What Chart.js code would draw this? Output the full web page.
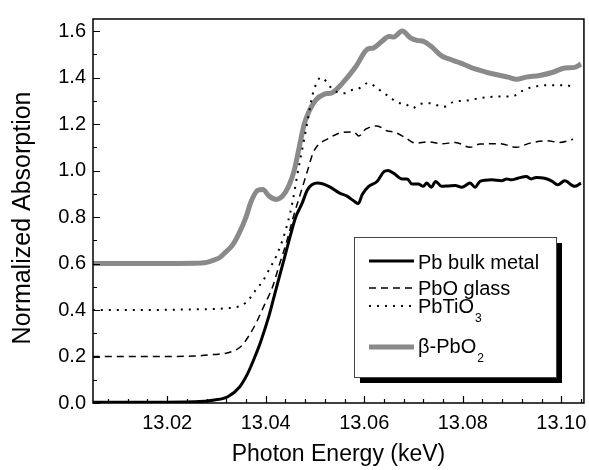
<!DOCTYPE html>
<html>
<head>
<meta charset="utf-8">
<script src="https://cdn.jsdelivr.net/npm/chart.js@4"></script>
<style>
  html, body { margin: 0; padding: 0; background: #fff; }
  canvas { display: block; }
</style>
</head>
<body>
<canvas id="grafico" width="589" height="470"></canvas>
<script>
const FONT = "'Liberation Sans', Arial, Helvetica, sans-serif";

// values
const pbMetalE = [13.0049, 13.0150, 13.0256, 13.0296, 13.0323, 13.0347, 13.0363, 13.0380, 13.0390, 13.0407, 13.0421, 13.0437, 13.0451, 13.0461, 13.0474, 13.0485, 13.0505, 13.0528, 13.0549, 13.0565, 13.0579, 13.0588, 13.0596, 13.0609, 13.0626, 13.0640, 13.0648, 13.0660, 13.0677, 13.0687, 13.0697, 13.0710, 13.0720, 13.0727, 13.0736, 13.0745, 13.0757, 13.0771, 13.0785, 13.0798, 13.0815, 13.0825, 13.0835, 13.0859, 13.0879, 13.0889, 13.0899, 13.0912, 13.0929, 13.0939, 13.0949, 13.0966, 13.0980, 13.0993, 13.1007, 13.1027, 13.1040];
const pbMetalY = [0.003, 0.003, 0.005, 0.013, 0.027, 0.069, 0.125, 0.209, 0.265, 0.378, 0.49, 0.616, 0.728, 0.80, 0.86, 0.918, 0.946, 0.932, 0.904, 0.89, 0.869, 0.858, 0.897, 0.932, 0.953, 0.995, 1.0, 0.988, 0.964, 0.964, 0.942, 0.942, 0.932, 0.946, 0.928, 0.953, 0.932, 0.934, 0.936, 0.928, 0.946, 0.928, 0.953, 0.96, 0.956, 0.964, 0.96, 0.967, 0.974, 0.964, 0.97, 0.967, 0.956, 0.939, 0.956, 0.932, 0.946];

const pboGlassE = [13.0049, 13.0150, 13.0256, 13.0296, 13.0323, 13.0350, 13.0367, 13.0380, 13.0397, 13.0414, 13.0427, 13.0442, 13.0456, 13.0471, 13.0485, 13.0495, 13.0505, 13.0525, 13.0555, 13.0579, 13.0589, 13.0603, 13.0626, 13.0646, 13.0663, 13.0683, 13.0704, 13.0730, 13.0757, 13.0785, 13.0815, 13.0835, 13.0876, 13.0909, 13.0936, 13.0970, 13.0997, 13.1024];
const pboGlassY = [0.20, 0.20, 0.202, 0.209, 0.216, 0.244, 0.293, 0.342, 0.42, 0.50, 0.59, 0.69, 0.80, 0.904, 1.0, 1.07, 1.107, 1.135, 1.164, 1.166, 1.149, 1.178, 1.192, 1.171, 1.164, 1.142, 1.118, 1.124, 1.115, 1.121, 1.10, 1.114, 1.115, 1.10, 1.118, 1.128, 1.121, 1.135];

const pbTiO3E = [13.0049, 13.0150, 13.0256, 13.0323, 13.0353, 13.0367, 13.0380, 13.0393, 13.0407, 13.0421, 13.0434, 13.0444, 13.0454, 13.0464, 13.0474, 13.0485, 13.0495, 13.0506, 13.0512, 13.0518, 13.0528, 13.0543, 13.0559, 13.0573, 13.0591, 13.0608, 13.0623, 13.0636, 13.0652, 13.0668, 13.0683, 13.0698, 13.0714, 13.0731, 13.0745, 13.0761, 13.0781, 13.0807, 13.0840, 13.0868, 13.0902, 13.0917, 13.0943, 13.0975, 13.1009, 13.1027];
const pbTiO3Y = [0.40, 0.40, 0.403, 0.408, 0.422, 0.448, 0.487, 0.521, 0.574, 0.63, 0.70, 0.77, 0.86, 0.98, 1.09, 1.213, 1.325, 1.388, 1.40, 1.395, 1.367, 1.34, 1.333, 1.345, 1.355, 1.377, 1.36, 1.339, 1.316, 1.292, 1.287, 1.269, 1.287, 1.29, 1.283, 1.274, 1.295, 1.301, 1.313, 1.318, 1.32, 1.339, 1.36, 1.367, 1.367, 1.357];

const betaPbO2E = [13.0049, 13.0165, 13.0256, 13.0280, 13.0296, 13.0306, 13.0316, 13.0333, 13.0347, 13.0360, 13.0370, 13.0384, 13.0394, 13.0407, 13.0421, 13.0434, 13.0448, 13.0458, 13.0468, 13.0478, 13.0488, 13.0502, 13.0518, 13.0535, 13.0555, 13.0582, 13.0606, 13.0619, 13.0636, 13.0650, 13.0660, 13.0677, 13.0694, 13.0707, 13.0720, 13.0737, 13.0757, 13.0774, 13.0788, 13.0801, 13.0825, 13.0848, 13.0876, 13.0892, 13.0909, 13.0929, 13.0956, 13.0983, 13.1007, 13.1027, 13.1040];
const betaPbO2Y = [0.600, 0.600, 0.601, 0.605, 0.616, 0.625, 0.644, 0.68, 0.735, 0.80, 0.865, 0.915, 0.918, 0.89, 0.876, 0.89, 0.94, 1.002, 1.10, 1.198, 1.255, 1.304, 1.328, 1.335, 1.374, 1.444, 1.521, 1.528, 1.556, 1.577, 1.575, 1.60, 1.571, 1.56, 1.556, 1.532, 1.493, 1.479, 1.468, 1.458, 1.437, 1.423, 1.409, 1.402, 1.393, 1.402, 1.409, 1.423, 1.441, 1.444, 1.458];

const seriesNames = ["Pb bulk metal", "PbO glass", "PbTiO", "β-PbO"];
const seriesSubs = ["", "", "3", "2"];

const xMajorTicks = [13.02, 13.04, 13.06, 13.08, 13.10];
const yMajorTicks = [0.0, 0.2, 0.4, 0.6, 0.8, 1.0, 1.2, 1.4, 1.6];

const pontos = (xs, ys) => xs.map((x, i) => ({ x, y: ys[i] }));
const ehMaior = (v, lista) => lista.some((m) => Math.abs(v - m) < 1e-6);

const estilos = [
  { color: "#000000", width: 3, dash: [] },
  { color: "#000000", width: 1.5, dash: [7, 5] },
  { color: "#000000", width: 2, dash: [2, 6] },
  { color: "#8a8a8a", width: 5, dash: [] },
];

const series = [
  pontos(pbMetalE, pbMetalY),
  pontos(pboGlassE, pboGlassY),
  pontos(pbTiO3E, pbTiO3Y),
  pontos(betaPbO2E, betaPbO2Y),
];

// frame plus inward tick marks
const moldura = {
  id: "moldura",
  afterDatasetsDraw(chart) {
    const { ctx, chartArea: a, scales } = chart;
    ctx.save();
    ctx.strokeStyle = "#000";
    ctx.lineWidth = 1.5;
    ctx.strokeRect(a.left, a.top, a.right - a.left, a.bottom - a.top);
    ctx.lineWidth = 1.2;
    ctx.beginPath();
    scales.x.ticks.forEach((t) => {
      const px = Math.round(scales.x.getPixelForValue(t.value)) + 0.5;
      const len = ehMaior(t.value, xMajorTicks) ? 7 : 4;
      ctx.moveTo(px, a.bottom);
      ctx.lineTo(px, a.bottom - len);
    });
    scales.y.ticks.forEach((t) => {
      const py = Math.round(scales.y.getPixelForValue(t.value)) + 0.5;
      const len = ehMaior(t.value, yMajorTicks) ? 7 : 4;
      ctx.moveTo(a.left, py);
      ctx.lineTo(a.left + len, py);
    });
    ctx.stroke();
    ctx.restore();
  },
};

// boxed legend with drop shadow and subscripts
const legenda = {
  id: "legenda",
  afterDraw(chart) {
    const ctx = chart.ctx;
    const box = { x: 354, y: 237, w: 202, h: 140 };
    const linhaY = [261, 288, 306, 347];
    const textoY = [269, 295, 313, 353];
    ctx.save();
    ctx.fillStyle = "#000";
    ctx.fillRect(box.x + 6, box.y + 6, box.w, box.h);
    ctx.fillStyle = "#fff";
    ctx.fillRect(box.x, box.y, box.w, box.h);
    ctx.strokeStyle = "#444";
    ctx.lineWidth = 1;
    ctx.strokeRect(box.x + 0.5, box.y + 0.5, box.w, box.h);

    seriesNames.forEach((nome, i) => {
      const e = estilos[i];
      ctx.beginPath();
      ctx.strokeStyle = e.color;
      ctx.lineWidth = e.width;
      ctx.setLineDash(e.dash);
      ctx.moveTo(369, linhaY[i]);
      ctx.lineTo(414, linhaY[i]);
      ctx.stroke();
      ctx.setLineDash([]);

      ctx.fillStyle = "#000";
      ctx.textBaseline = "alphabetic";
      ctx.font = "20px " + FONT;
      ctx.fillText(nome, 418, textoY[i]);
      if (seriesSubs[i]) {
        const w = ctx.measureText(nome).width;
        ctx.font = "12px " + FONT;
        ctx.fillText(seriesSubs[i], 418 + w + 1, textoY[i] + 9);
      }
    });
    ctx.restore();
  },
};

new Chart(document.getElementById("grafico"), {
  type: "line",
  data: {
    datasets: series.map((dados, i) => ({
      label: seriesNames[i] + seriesSubs[i],
      data: dados,
      borderColor: estilos[i].color,
      borderWidth: estilos[i].width,
      borderDash: estilos[i].dash,
      pointRadius: 0,
      fill: false,
      cubicInterpolationMode: "monotone",
    })),
  },
  options: {
    responsive: false,
    animation: false,
    layout: { padding: { top: 11, right: 3, left: 0, bottom: 0 } },
    plugins: { legend: { display: false }, tooltip: { enabled: false } },
    scales: {
      x: {
        type: "linear",
        min: 13.00494,
        max: 13.1046,
        grid: { display: false, drawTicks: false },
        border: { display: false },
        ticks: {
          stepSize: 0.004,
          includeBounds: false,
          autoSkip: false,
          maxRotation: 0,
          padding: 8,
          color: "#000",
          font: { family: FONT, size: 20 },
          callback: (v) => (ehMaior(v, xMajorTicks) ? v.toFixed(2) : ""),
        },
        title: {
          display: true,
          text: "Photon Energy (keV)",
          color: "#000",
          font: { family: FONT, size: 23 },
          padding: { top: 0, bottom: 2 },
        },
        afterFit(scale) { scale.height = 67; },
      },
      y: {
        min: 0,
        max: 1.652,
        grid: { display: false, drawTicks: false },
        border: { display: false },
        ticks: {
          stepSize: 0.1,
          includeBounds: false,
          autoSkip: false,
          padding: 7,
          color: "#000",
          font: { family: FONT, size: 20 },
          callback: (v) => (ehMaior(v, yMajorTicks) ? v.toFixed(1) : ""),
        },
        title: {
          display: true,
          text: "Normalized Absorption  ",
          color: "#000",
          font: { family: FONT, size: 25 },
          padding: { top: 8, bottom: 0 },
        },
        afterFit(scale) { scale.width = 93; },
      },
    },
  },
  plugins: [moldura, legenda],
});
</script>
</body>
</html>
